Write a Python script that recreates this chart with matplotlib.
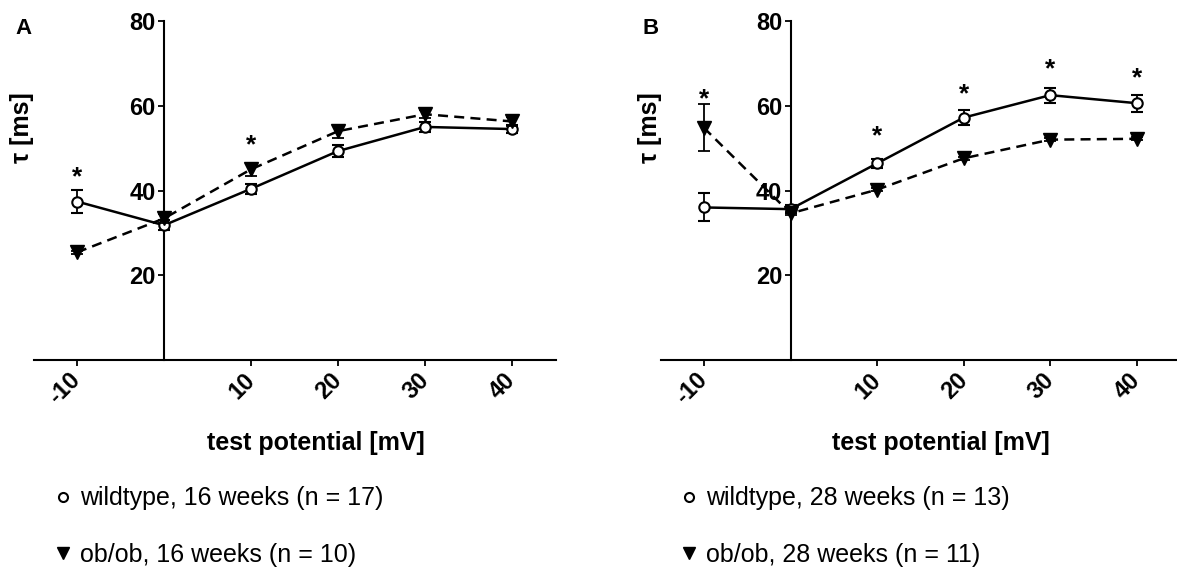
import matplotlib
matplotlib.use("Agg")
import matplotlib.pyplot as plt
from matplotlib.lines import Line2D

plt.rcParams['font.family'] = ['Liberation Sans', 'DejaVu Sans']

# test potentials [mV]
potentials = [-10, 0, 10, 20, 30, 40]

# panel A, 16 weeks
wt16 = [37.4, 31.8, 40.4, 49.3, 55.0, 54.5]
wt16_err = [2.8, 1.2, 1.2, 1.4, 1.2, 1.0]
ob16 = [25.4, 33.4, 45.0, 54.0, 58.0, 56.3]
ob16_err = [0.3, 1.0, 1.5, 1.5, 1.0, 1.0]
stars16_x = [-10, 10]
stars16_y = [44.8, 52.5]

# panel B, 28 weeks
wt28 = [36.0, 35.6, 46.4, 57.2, 62.5, 60.6]
wt28_err = [3.3, 1.0, 1.0, 1.8, 1.8, 2.0]
ob28 = [54.8, 34.6, 40.2, 47.6, 52.0, 52.2]
ob28_err = [5.5, 0.4, 0.4, 0.4, 0.4, 0.4]
stars28_x = [-10, 10, 20, 30, 40]
stars28_y = [63.2, 54.5, 64.4, 70.4, 68.3]

xticks = [-10, 10, 20, 30, 40]
yticks = [20, 40, 60, 80]

W, H = 1177, 569
fig = plt.figure(figsize=(W / 100, H / 100), dpi=100)


def px_box(x0, y0, x1, y1):
    # pixel box (top-left origin) -> figure fraction
    return [x0 / W, 1 - y1 / H, (x1 - x0) / W, (y1 - y0) / H]


def draw_panel(rect, wt, wt_err, ob, ob_err, sx, sy, letter, letter_x,
               ylab_x, xlab_x, legend_x, weeks, n_wt, n_ob):
    ax = fig.add_axes(rect)
    ax.errorbar(potentials, wt, yerr=wt_err, color='black', lw=1.8,
                marker='o', ms=7.5, mfc='white', mec='black', mew=1.5,
                capsize=4.5, elinewidth=1.3, capthick=1.3, zorder=3)
    ax.errorbar(potentials, ob, yerr=ob_err, color='black', lw=1.8, ls=(0, (4, 2.5)),
                marker='v', ms=9.5, mfc='black', mec='black',
                capsize=4.5, elinewidth=1.3, capthick=1.3, zorder=4)
    for x, y in zip(sx, sy):
        ax.annotate('*', (x, y), xytext=(0, -10.5), textcoords='offset points',
                    ha='center', va='baseline', fontsize=19, fontweight='bold')

    ax.set_xlim(-15, 45)
    ax.set_ylim(0, 80)
    ax.spines['left'].set_position(('data', 0))
    ax.spines['top'].set_visible(False)
    ax.spines['right'].set_visible(False)
    for s in ['left', 'bottom']:
        ax.spines[s].set_linewidth(1.5)
    ax.set_xticks(xticks)
    ax.set_yticks(yticks)
    ax.set_yticklabels([str(t) for t in yticks], fontsize=17, fontweight='bold')
    ax.set_xticklabels([str(t) for t in xticks], fontsize=17, fontweight='bold',
                       rotation=45, ha='right', va='center', rotation_mode='anchor')
    ax.tick_params(axis='both', length=4, width=1.3, direction='out')
    ax.tick_params(axis='y', pad=2)
    ax.tick_params(axis='x', pad=8)
    ax.patch.set_alpha(0)

    fig.text(letter_x / W, 1 - 28 / H, letter, fontsize=16, fontweight='bold',
             ha='left', va='center')
    fig.text(ylab_x / W, 1 - 128 / H, 'τ [ms]', fontsize=18, fontweight='bold',
             rotation=90, ha='center', va='center')
    fig.text(xlab_x / W, 1 - 443 / H, 'test potential [mV]', fontsize=18,
             fontweight='bold', ha='center', va='center')

    handles = [Line2D([], [], ls='none', marker='o', ms=6.5, mfc='white',
                      mec='black', mew=1.5),
               Line2D([], [], ls='none', marker='v', ms=8, color='black')]
    labels = [f'wildtype, {weeks} weeks (n = {n_wt})',
              f'ob/ob, {weeks} weeks (n = {n_ob})']
    fig.legend(handles, labels, loc='center left',
               bbox_to_anchor=(legend_x / W, 1 - 526.5 / H), frameon=False,
               fontsize=18, handlelength=0.6, handletextpad=0.38,
               labelspacing=1.3, borderpad=0, borderaxespad=0)
    return ax


draw_panel(px_box(33.5, 21, 555.5, 360), wt16, wt16_err, ob16, ob16_err,
           stars16_x, stars16_y, 'A', 15, 22, 316, 55.5, 16, 17, 10)
draw_panel(px_box(660.6, 21, 1180.2, 360), wt28, wt28_err, ob28, ob28_err,
           stars28_x, stars28_y, 'B', 642, 650, 941, 681.5, 28, 13, 11)

fig.savefig('out.png', dpi=100)
